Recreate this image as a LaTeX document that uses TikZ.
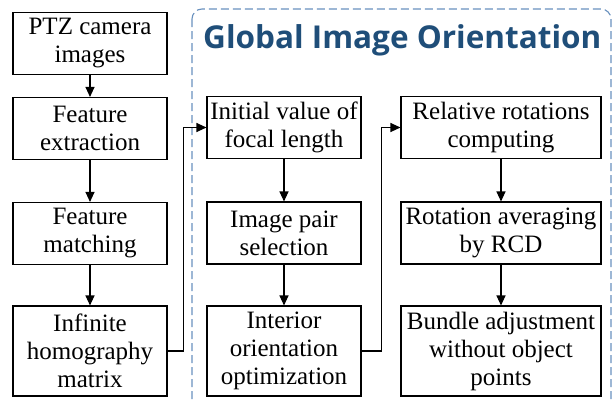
\documentclass[tikz,border=0pt]{standalone}
\usepackage{fontspec}
\setmainfont{Liberation Serif}
\newfontfamily\titlefont{Open Sans}
\usetikzlibrary{arrows.meta}
\definecolor{titleblue}{RGB}{31,78,121}
\definecolor{dashblue}{RGB}{105,145,190}

\begin{document}
\begin{tikzpicture}[x=1pt, y=-1pt,
  box/.style={draw, line width=1.1pt, align=center, minimum width=154, minimum height=62, inner sep=0pt, font=\fontsize{25}{28}\selectfont},
  tall/.style={box, minimum height=90},
  wide/.style={minimum width=200},
  flow/.style={line width=1.1pt, -{Triangle[length=10pt,width=9pt]}}]
\useasboundingbox (0,0) rectangle (612,402);

%group frame
\draw[dashblue, line width=1.1pt, dash pattern=on 8pt off 4pt, rounded corners=10] (192,9) rectangle (611,430);
\node[anchor=base west, text=titleblue, font=\titlefont\bfseries\fontsize{31.5}{34}\selectfont, inner sep=0pt] (title) at (203,48) {Global Image Orientation};

%first column
\node[box] (ptz) at (90,43.5) {PTZ camera\\images};
\node[box] (extract) at (90,128.5) {Feature\\extraction};
\node[box] (match) at (90,233.5) {Feature\\matching};
\node[tall] (homog) at (90,351) {Infinite\\homography\\matrix};

%second column
\node[box] (focal) at (284,127.5) {Initial value of\\focal length};
\node[box] (pairs) at (284,233) {Image pair\\selection};
\node[tall] (interior) at (284,351) {Interior\\orientation\\optimization};

%third column
\node[box, wide] (relrot) at (501,127.5) {Relative rotations\\computing};
\node[box, wide] (rotavg) at (501,233) {Rotation averaging\\by RCD};
\node[tall, wide] (bundle) at (501,351) {Bundle adjustment\\without object\\points};

%arrows
\draw[flow] (ptz) -- (extract);
\draw[flow] (extract) -- (match);
\draw[flow] (match) -- (homog);
\draw[flow] (homog.east) -- ++(16,0) |- (focal.west);
\draw[flow] (focal) -- (pairs);
\draw[flow] (pairs) -- (interior);
\draw[flow] (interior.east) -- ++(20,0) |- (relrot.west);
\draw[flow] (relrot) -- (rotavg);
\draw[flow] (rotavg) -- (bundle);
\end{tikzpicture}
\end{document}
